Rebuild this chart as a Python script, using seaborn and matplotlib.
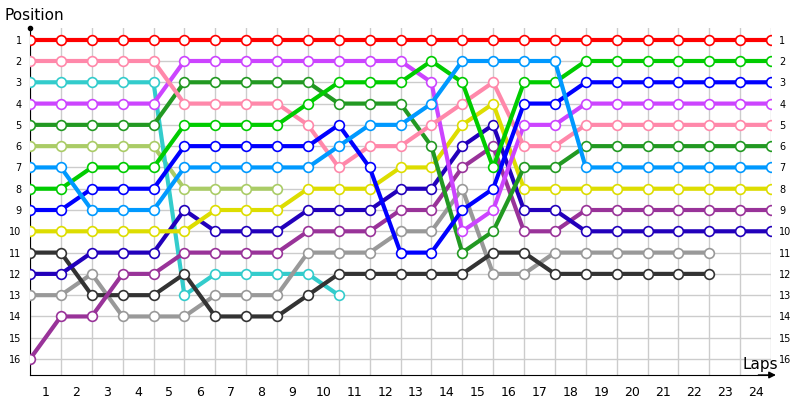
import numpy as np
import pandas as pd
import seaborn as sns
import matplotlib.pyplot as plt

laps = list(range(25))

# position of each car per lap (lap 0 = start)
red = [1] * 25
pink = [2, 2, 2, 2, 2, 4, 4, 4, 4, 5, 7, 6, 6, 5, 4, 3, 6, 6, 5, 5, 5, 5, 5, 5, 5]
violet = [4, 4, 4, 4, 4, 2, 2, 2, 2, 2, 2, 2, 2, 3, 10, 9, 5, 5, 4, 4, 4, 4, 4, 4, 4]
cyan = [3, 3, 3, 3, 3, 13, 12, 12, 12, 12, 13]
dark_green = [5, 5, 5, 5, 5, 3, 3, 3, 3, 3, 4, 4, 4, 6, 11, 10, 7, 7, 6, 6, 6, 6, 6, 6, 6]
green = [8, 8, 7, 7, 7, 5, 5, 5, 5, 4, 3, 3, 3, 2, 3, 7, 3, 3, 2, 2, 2, 2, 2, 2, 2]
olive = [6, 6, 6, 6, 6, 8, 8, 8, 8]
sky = [7, 7, 9, 9, 9, 7, 7, 7, 7, 7, 6, 5, 5, 4, 2, 2, 2, 2, 7, 7, 7, 7, 7, 7, 7]
blue = [9, 9, 8, 8, 8, 6, 6, 6, 6, 6, 5, 7, 11, 11, 9, 8, 4, 4, 3, 3, 3, 3, 3, 3, 3]
navy = [12, 12, 11, 11, 11, 9, 10, 10, 10, 9, 9, 9, 8, 8, 6, 5, 9, 9, 10, 10, 10, 10, 10, 10, 10]
yellow = [10, 10, 10, 10, 10, 10, 9, 9, 9, 8, 8, 8, 7, 7, 5, 4, 8, 8, 8, 8, 8, 8, 8, 8, 8]
magenta = [16, 14, 14, 12, 12, 11, 11, 11, 11, 10, 10, 10, 9, 9, 7, 6, 10, 10, 9, 9, 9, 9, 9, 9, 9]
gray = [13, 13, 12, 14, 14, 14, 13, 13, 13, 11, 11, 11, 10, 10, 8, 12, 12, 11, 11, 11, 11, 11, 11]
black = [11, 11, 13, 13, 13, 12, 14, 14, 14, 13, 12, 12, 12, 12, 12, 11, 11, 12, 12, 12, 12, 12, 12]

series = [
    ("olive", olive, "#aacc66"),
    ("cyan", cyan, "#33cccc"),
    ("gray", gray, "#999999"),
    ("black", black, "#333333"),
    ("magenta", magenta, "#993399"),
    ("navy", navy, "#2200bb"),
    ("yellow", yellow, "#dddd00"),
    ("dark_green", dark_green, "#229922"),
    ("violet", violet, "#cc44ff"),
    ("pink", pink, "#ff88aa"),
    ("blue", blue, "#0000ff"),
    ("green", green, "#00cc00"),
    ("sky", sky, "#0099ff"),
    ("red", red, "#ff0000"),
]

fig = plt.figure(figsize=(8, 4), dpi=100)
ax = fig.add_axes([30 / 800, 25 / 400, 741 / 800, 347 / 400])

for name, pos, color in series:
    df = pd.DataFrame({"lap": laps[:len(pos)], "pos": pos})
    sns.lineplot(data=df, x="lap", y="pos", ax=ax, color=color, linewidth=3,
                 marker="o", markersize=7, markerfacecolor="white",
                 markeredgecolor=color, markeredgewidth=1.2, zorder=3)

ax.set_xlim(0, 24)
ax.set_ylim(16.75, 0.45)
ax.set_xticks(range(25))
ax.set_xticklabels([])
ax.set_xticks(np.arange(24) + 0.5, minor=True)
ax.set_xticklabels([str(i + 1) for i in range(24)], minor=True, fontsize=9)
ax.set_yticks(range(1, 17))
ax.set_yticklabels([str(i) for i in range(1, 17)], fontsize=7)
ax.tick_params(axis="x", which="both", length=0, pad=8)
ax.tick_params(axis="y", length=0, left=False, right=False, labelleft=True, labelright=True, pad=6)
ax.grid(True, color="#cccccc", linewidth=1, zorder=0)
ax.set_axisbelow(True)
for s in ["top", "right"]:
    ax.spines[s].set_visible(False)
ax.spines["left"].set_color("black")
ax.spines["bottom"].set_color("black")
ax.spines["left"].set_bounds(16.75, 0.45)
ax.set_xlabel("")
ax.set_ylabel("")

# axis end markers
ax.plot([0], [0.45], marker="o", color="black", markersize=3, clip_on=False)
ax.annotate("", xy=(24.25, 16.75), xytext=(23.5, 16.75),
            arrowprops=dict(arrowstyle="-|>", color="black", lw=1), annotation_clip=False)

fig.text(5 / 800, 1 - 16 / 400, "Position", fontsize=11, va="center", ha="left")
fig.text(742 / 800, 1 - 365 / 400, "Laps", fontsize=11, va="center", ha="left")

fig.savefig("out.png", dpi=100)
